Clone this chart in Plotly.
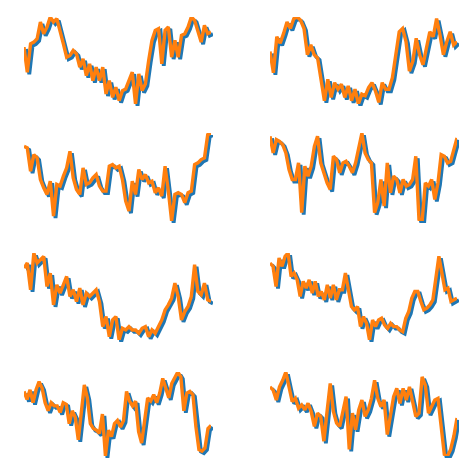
import plotly.graph_objects as go

# Eight small panels, each series drawn as an orange line over a blue offset shadow line.
panel_a = [210, 135, 220, 225, 235, 285, 250, 270, 300, 285, 295, 260, 220, 180, 185, 200, 190, 150, 175, 125,
           160, 110, 150, 110, 150, 70, 110, 60, 90, 50, 80, 85, 110, 135, 40, 130, 80, 100, 170, 230,
           260, 265, 160, 260, 270, 180, 230, 180, 245, 250, 270, 300, 290, 260, 225, 275, 250, 255]
panel_b = [200, 135, 245, 225, 255, 290, 270, 300, 305, 295, 270, 190, 220, 190, 180, 120, 50, 115, 60, 105,
           85, 100, 60, 95, 50, 85, 40, 70, 65, 90, 105, 80, 45, 105, 85, 85, 120, 190, 260, 270,
           230, 140, 170, 240, 190, 160, 210, 260, 245, 300, 250, 190, 230, 260, 220, 230]
panel_c = [255, 250, 180, 230, 220, 155, 130, 110, 150, 45, 140, 135, 165, 190, 240, 160, 125, 110, 190, 140,
           145, 160, 170, 135, 120, 120, 195, 200, 190, 195, 155, 90, 60, 150, 110, 185, 155, 170, 145, 150,
           115, 130, 105, 195, 120, 30, 110, 115, 110, 85, 115, 120, 200, 205, 215, 220, 290, 295]
panel_d = [280, 230, 270, 265, 255, 230, 180, 150, 150, 200, 50, 190, 160, 190, 250, 280, 200, 170, 140, 120,
           220, 210, 170, 200, 205, 190, 170, 200, 250, 290, 230, 210, 200, 50, 80, 150, 70, 200, 110, 160,
           150, 110, 150, 130, 135, 150, 220, 30, 25, 140, 130, 150, 90, 140, 225, 220, 200, 205, 240, 275]
panel_e = [235, 250, 170, 280, 250, 260, 270, 180, 220, 125, 185, 160, 185, 210, 150, 170, 135, 175, 125, 160,
           150, 160, 170, 135, 60, 90, 30, 80, 90, 20, 55, 50, 60, 50, 50, 40, 55, 60, 30, 50,
           40, 60, 80, 110, 125, 145, 190, 150, 80, 105, 120, 150, 245, 165, 155, 190, 140, 135]
panel_f = [250, 240, 180, 265, 240, 270, 280, 210, 220, 200, 150, 195, 175, 200, 160, 195, 150, 165, 140, 185,
           145, 185, 140, 170, 170, 220, 170, 120, 110, 120, 60, 90, 70, 20, 80, 60, 80, 85, 65, 55,
           70, 60, 60, 50, 45, 85, 105, 145, 165, 165, 135, 110, 115, 125, 140, 200, 270, 220, 170, 175,
           135, 140, 145]
panel_g = [210, 185, 215, 175, 215, 240, 220, 175, 150, 175, 165, 165, 145, 175, 170, 110, 150, 130, 60, 150,
           230, 190, 110, 95, 90, 80, 140, 10, 90, 70, 110, 120, 100, 120, 210, 180, 165, 180, 85, 50,
           120, 190, 180, 200, 175, 205, 250, 220, 190, 235, 255, 270, 255, 150, 205, 210, 200, 100, 30, 25,
           35, 95, 105]
panel_h = [230, 220, 190, 230, 250, 275, 230, 185, 195, 165, 175, 160, 180, 155, 110, 150, 140, 65, 155, 240,
           155, 120, 110, 160, 200, 40, 150, 100, 160, 190, 140, 160, 195, 250, 195, 170, 190, 85, 140, 200,
           225, 180, 225, 190, 230, 190, 140, 150, 260, 235, 150, 170, 190, 195, 110, 25, 20, 40, 80, 135]

panels = [panel_a, panel_b, panel_c, panel_d, panel_e, panel_f, panel_g, panel_h]

W, H = 473, 462
# pixel extents of the plotting areas (left, right) and (top, bottom)
cols = [(24, 211), (270, 457)]
rows = [(17, 104), (133, 221), (253, 340), (372, 456)]
shadow_dx, shadow_dy = 2.0, 2.0

BLUE = "#1f77b4"
ORANGE = "#ff7f0e"

fig = go.Figure()
layout = {}
ax = 0
for i, vals in enumerate(panels):
    r, c = divmod(i, 2)
    x0, x1 = cols[c]
    t0, t1 = rows[r]
    xs = list(range(len(vals)))
    yr = [min(vals), max(vals)]
    xr = [0, len(vals) - 1]
    for dx, dy, color, width in ((shadow_dx, shadow_dy, BLUE, 3.8), (0, 0, ORANGE, 3.4)):
        ax += 1
        sx = "" if ax == 1 else str(ax)
        layout["xaxis" + sx] = dict(domain=[(x0 + dx) / W, (x1 + dx) / W], range=xr, visible=False,
                                    anchor="y" + sx, fixedrange=True)
        layout["yaxis" + sx] = dict(domain=[1 - (t1 + dy) / H, 1 - (t0 + dy) / H], range=yr, visible=False,
                                    anchor="x" + sx, fixedrange=True)
        fig.add_trace(go.Scatter(x=xs, y=vals, mode="lines", xaxis="x" + sx, yaxis="y" + sx,
                                 line=dict(color=color, width=width), hoverinfo="skip"))

fig.update_layout(**layout)
fig.update_layout(width=W, height=H, margin=dict(l=0, r=0, t=0, b=0), showlegend=False,
                  paper_bgcolor="white", plot_bgcolor="rgba(0,0,0,0)")
fig.write_html("out.html", config={"displayModeBar": False})
